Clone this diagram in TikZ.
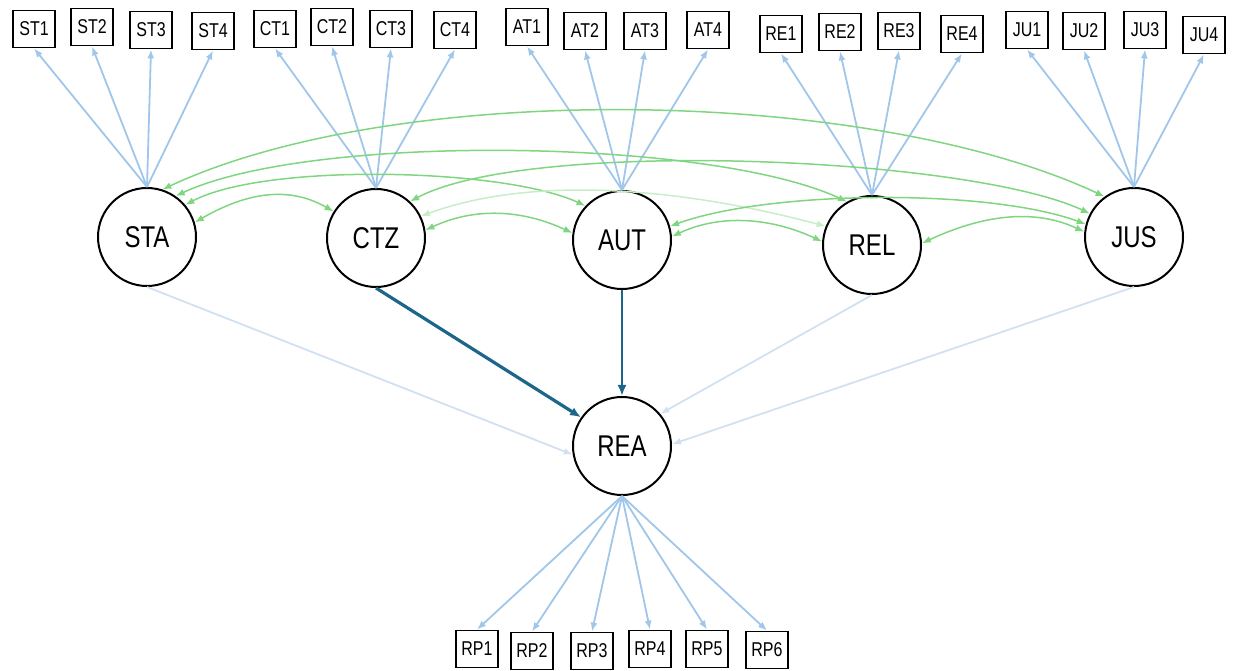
\documentclass[tikz,border=0pt]{standalone}
\usepackage{fontspec}
\setmainfont{Liberation Sans}[FakeStretch=0.8]
\usetikzlibrary{arrows.meta}
\definecolor{msr}{RGB}{160,198,234}
\definecolor{cov}{RGB}{128,214,128}
\definecolor{covl}{RGB}{200,237,200}
\definecolor{weak}{RGB}{210,225,241}
\definecolor{strong}{RGB}{28,102,138}
\begin{document}
\begin{tikzpicture}[x=1pt,y=1pt,
  lat/.style={circle,draw,line width=2pt,minimum size=98pt,inner sep=0pt,font=\fontsize{30}{32}\selectfont},
  ind/.style={rectangle,draw,line width=1.8pt,minimum width=42pt,minimum height=37pt,inner sep=0pt,font=\fontsize{20}{22}\selectfont},
  ld/.style={draw=msr,line width=1.8pt,-{Latex[length=9pt,width=7pt]}},
  cv/.style={draw=cov,line width=1.5pt,{Latex[length=9pt,width=7pt]}-{Latex[length=9pt,width=7pt]}},
  cvl/.style={draw=covl,line width=1.5pt,{Latex[length=9pt,width=7pt]}-{Latex[length=9pt,width=7pt]}},
  weakpath/.style={draw=weak,line width=1.8pt,-{Latex[length=9pt,width=7pt]}},
  strongpath/.style={draw=strong,-{Latex[length=11pt,width=9pt]}}
]
\useasboundingbox (0,0) rectangle (1242,670);
% latent variables
\node[lat] (STA) at (147,433) {STA};
\node[lat] (CTZ) at (376,432) {CTZ};
\node[lat] (AUT) at (622,430) {AUT};
\node[lat] (REL) at (872,425) {REL};
\node[lat] (JUS) at (1134,433) {JUS};
\node[lat] (REA) at (622,224) {REA};
% indicators
\node[ind] (ST1) at (34,641) {ST1};
\node[ind] (ST2) at (92,643) {ST2};
\node[ind] (ST3) at (151,640) {ST3};
\node[ind] (ST4) at (213,639) {ST4};
\node[ind] (CT1) at (275,641) {CT1};
\node[ind] (CT2) at (332,643) {CT2};
\node[ind] (CT3) at (391,641) {CT3};
\node[ind] (CT4) at (455,640) {CT4};
\node[ind] (AT1) at (527,643) {AT1};
\node[ind] (AT2) at (585,639) {AT2};
\node[ind] (AT3) at (645,639) {AT3};
\node[ind] (AT4) at (708,640) {AT4};
\node[ind] (RE1) at (781,636) {RE1};
\node[ind] (RE2) at (840,638) {RE2};
\node[ind] (RE3) at (899,639) {RE3};
\node[ind] (RE4) at (962,636) {RE4};
\node[ind] (JU1) at (1027,640) {JU1};
\node[ind] (JU2) at (1084,639) {JU2};
\node[ind] (JU3) at (1145,640) {JU3};
\node[ind] (JU4) at (1204,635) {JU4};
\node[ind] (RP1) at (477,21) {RP1};
\node[ind] (RP2) at (532,19) {RP2};
\node[ind] (RP3) at (592,19) {RP3};
\node[ind] (RP4) at (650,21) {RP4};
\node[ind] (RP5) at (707,21) {RP5};
\node[ind] (RP6) at (767,20) {RP6};
% loadings
\foreach \b in {ST1,ST2,ST3,ST4} \draw[ld] (STA.north) -- (\b.south);
\foreach \b in {CT1,CT2,CT3,CT4} \draw[ld] (CTZ.north) -- (\b.south);
\foreach \b in {AT1,AT2,AT3,AT4} \draw[ld] (AUT.north) -- (\b.south);
\foreach \b in {RE1,RE2,RE3,RE4} \draw[ld] (REL.north) -- (\b.south);
\foreach \b in {JU1,JU2,JU3,JU4} \draw[ld] (JUS.north) -- (\b.south);
\foreach \b in {RP1,RP2,RP3,RP4,RP5,RP6} \draw[ld] (REA.south) -- (\b.north);
% covariances
\draw[cv] (STA.72) to[out=25,in=155,distance=260pt] (JUS.126);
\draw[cv] (STA.55) to[out=25,in=155,distance=150pt] (REL.120);
\draw[cv] (CTZ.47) to[out=28,in=155,distance=135pt] (JUS.152);
\draw[cv] (STA.40) to[out=28,in=155,distance=90pt] (AUT.137);
\draw[cvl] (CTZ.26) to[out=20,in=165,distance=130pt] (REL.158);
\draw[cv] (AUT.16) to[out=20,in=160,distance=105pt] (JUS.165);
\draw[cv] (STA.17) to[out=30,in=150,distance=55pt] (CTZ.148);
\draw[cv] (CTZ.9) to[out=25,in=155,distance=55pt] (AUT.172);
\draw[cv] (AUT.4) to[out=25,in=155,distance=55pt] (REL.176);
\draw[cv] (REL.2) to[out=25,in=155,distance=60pt] (JUS.174);
% structural paths
\draw[weakpath] (STA.south) -- (REA.190);
\draw[strongpath,line width=3.2pt] (CTZ.south) -- (REA.145);
\draw[strongpath,line width=2.6pt] (AUT.south) -- (REA.north);
\draw[weakpath] (REL.south) -- (REA.40);
\draw[weakpath] (JUS.south) -- (REA.2);
\end{tikzpicture}
\end{document}
